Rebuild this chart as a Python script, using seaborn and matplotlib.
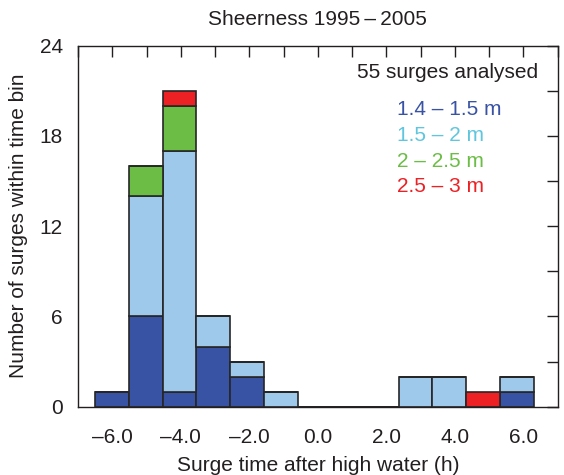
import numpy as np
import pandas as pd
import matplotlib
matplotlib.use("Agg")
import matplotlib.pyplot as plt
from matplotlib.ticker import MultipleLocator
import seaborn as sns

# Time bins (hours relative to high water): 13 bins spanning the tidal cycle
bin_edges = np.linspace(-6.5, 6.3, 14)

# Surge counts per time bin, split by peak surge height class
classes = ["1.4 – 1.5 m", "1.5 – 2 m", "2 – 2.5 m", "2.5 – 3 m"]
count_14_15 = [1, 6, 1, 4, 2, 0, 0, 0, 0, 0, 0, 0, 1]
count_15_20 = [0, 8, 16, 2, 1, 1, 0, 0, 0, 2, 2, 0, 1]
count_20_25 = [0, 2, 3, 0, 0, 0, 0, 0, 0, 0, 0, 0, 0]
count_25_30 = [0, 0, 1, 0, 0, 0, 0, 0, 0, 0, 0, 1, 0]

bar_colors = ["#3953a4", "#9fc9ea", "#6bbd45", "#ed2024"]
text_colors = ["#3953a4", "#5fc6de", "#6bbd45", "#ed2024"]
ink = "#231f20"
fs = 15

# One row per surge, placed at the centre of its time bin
centres = (bin_edges[:-1] + bin_edges[1:]) / 2
rows = []
for label, counts in zip(classes, [count_14_15, count_15_20, count_20_25, count_25_30]):
    for t, n in zip(centres, counts):
        rows.extend([{"time": t, "height": label}] * n)
df = pd.DataFrame(rows)

sns.set_style("white")
plt.rcParams["font.family"] = ["Liberation Sans", "DejaVu Sans"]

fig = plt.figure(figsize=(5.64, 4.75), dpi=100)
ax = fig.add_axes([0.1383, 0.1438, 0.9888 - 0.1383, 0.9038 - 0.1438])

# Stacked histogram: last hue level ends up at the bottom of the stack
sns.histplot(
    data=df, x="time", hue="height",
    hue_order=classes[::-1], palette=dict(zip(classes, bar_colors)),
    bins=list(bin_edges), multiple="stack", alpha=1, edgecolor="#262626",
    linewidth=1.2, legend=False, ax=ax,
)

ax.set_xlim(-7, 7)
ax.set_ylim(0, 24)
ax.xaxis.set_minor_locator(MultipleLocator(1))
ax.yaxis.set_major_locator(MultipleLocator(6))
ax.yaxis.set_minor_locator(MultipleLocator(3))
xt = np.arange(-6, 7, 2)
ax.set_xticks(xt)
ax.set_xticklabels([f"{v:.1f}".replace("-", "\u2013") for v in xt])

for s in ax.spines.values():
    s.set_color(ink)
    s.set_linewidth(1.0)

ax.tick_params(axis="both", which="both", colors=ink, labelsize=fs,
               length=8, width=1.0, direction="out")
ax.tick_params(axis="both", which="both", top=True, right=True)
ax.tick_params(axis="x", which="both", pad=7)
ax.tick_params(axis="y", which="both", pad=3)
# Ticks on the top and right spines point inward
for t in ax.xaxis.get_major_ticks() + ax.xaxis.get_minor_ticks():
    t.tick2line.set_marker(matplotlib.lines.TICKDOWN)
for t in ax.yaxis.get_major_ticks() + ax.yaxis.get_minor_ticks():
    t.tick2line.set_marker(matplotlib.lines.TICKLEFT)

ax.set_xlabel("Surge time after high water (h)", fontsize=fs, color=ink, labelpad=7)
ax.set_ylabel("Number of surges within time bin", fontsize=fs, color=ink, labelpad=8)
ax.set_title("Sheerness 1995\u2009\u2013\u20092005", fontsize=fs, color=ink, pad=15)

total = len(df)
ax.text(0.77, 0.925, f"{total} surges analysed", transform=ax.transAxes,
        ha="center", va="center", fontsize=fs, color=ink)
for i, (label, c) in enumerate(zip(classes, text_colors)):
    ax.text(0.665, 0.822 - i * 0.071, label, transform=ax.transAxes,
            ha="left", va="center", fontsize=fs, color=c)

fig.savefig("out.png", dpi=100)
